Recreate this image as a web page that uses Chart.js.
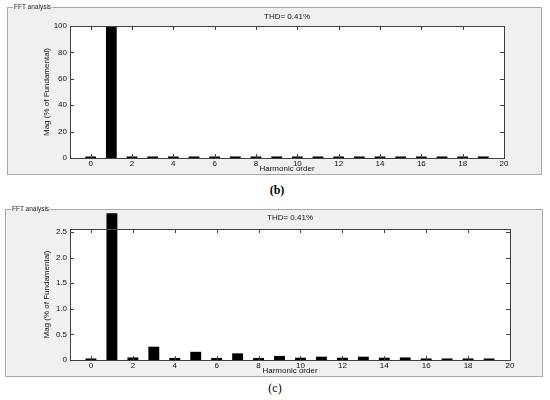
<!DOCTYPE html>
<html>
<head>
<meta charset="utf-8">
<script src="https://cdn.jsdelivr.net/npm/chart.js@4"></script>
<style>
  body { margin: 0; width: 550px; height: 400px; background: #fff; position: relative; overflow: hidden; font-family: "Liberation Sans", Arial, sans-serif; }
  .frame { position: absolute; border: 1px solid #a8a8a8; background: #f0f0f0; }
  .frame canvas { position: absolute; left: 0; top: 0; }
  .tag { position: absolute; left: 5px; top: -5px; font-size: 6.5px; line-height: 8px; padding: 0 1px; color: #222;
         background: linear-gradient(#fff 50%, #f0f0f0 50%); will-change: transform; }
  .cap { position: absolute; font-family: "Liberation Serif", serif; font-size: 12px; color: #000; transform: translate(-50%, -50%); }
</style>
</head>
<body>
<div class="frame" style="left:7px; top:7px; width:533px; height:166px;">
  <span class="tag">FFT analysis</span>
  <canvas id="fftB" width="533" height="166"></canvas>
</div>
<div class="cap" style="left:277px; top:190px; font-weight:bold;">(b)</div>

<div class="frame" style="left:5px; top:209px; width:536px; height:166px;">
  <span class="tag">FFT analysis</span>
  <canvas id="fftC" width="536" height="166"></canvas>
</div>
<div class="cap" style="left:275px; top:388px;">(c)</div>

<script>
// harmonic order 0..19
const harmonics = [0, 1, 2, 3, 4, 5, 6, 7, 8, 9, 10, 11, 12, 13, 14, 15, 16, 17, 18, 19];
// (b) magnitude, % of fundamental
const magB = [0.03, 100, 0.04, 0.26, 0.04, 0.16, 0.04, 0.13, 0.04, 0.08, 0.045, 0.065, 0.045, 0.065, 0.045, 0.05, 0.03, 0.03, 0.03, 0.025];
// (c) magnitude, zoomed axis
const magC = [0.03, 2.87, 0.05, 0.26, 0.04, 0.16, 0.04, 0.13, 0.04, 0.08, 0.045, 0.065, 0.045, 0.065, 0.045, 0.05, 0.03, 0.03, 0.03, 0.025];
const xTicks = [0, 2, 4, 6, 8, 10, 12, 14, 16, 18, 20];
const yTicksB = [0, 20, 40, 60, 80, 100];
const yTicksC = [0, 0.5, 1, 1.5, 2, 2.5];
const thdText = 'THD= 0.41%';

const axisFont = { family: '"Liberation Sans", Arial, sans-serif', size: 8 };

// white axes area + matlab style box with inward ticks
const boxPlugin = {
    id: 'matlabBox',
    beforeDatasetsDraw(chart) {
        const a = chart.chartArea;
        const ctx = chart.ctx;
        ctx.save();
        ctx.fillStyle = '#fff';
        ctx.fillRect(a.left, a.top, a.right - a.left, a.bottom - a.top);
        ctx.restore();
    },
    afterDraw(chart) {
        const a = chart.chartArea;
        const ctx = chart.ctx;
        const len = 4;
        ctx.save();
        ctx.strokeStyle = '#404040';
        ctx.lineWidth = 1;
        ctx.beginPath();
        chart.scales.x.ticks.forEach(t => {
            const px = Math.round(chart.scales.x.getPixelForValue(t.value)) + 0.5;
            ctx.moveTo(px, a.bottom); ctx.lineTo(px, a.bottom - len);
            ctx.moveTo(px, a.top); ctx.lineTo(px, a.top + len);
        });
        chart.scales.y.ticks.forEach(t => {
            const py = Math.round(chart.scales.y.getPixelForValue(t.value)) + 0.5;
            ctx.moveTo(a.left, py); ctx.lineTo(a.left + len, py);
            ctx.moveTo(a.right, py); ctx.lineTo(a.right - len, py);
        });
        ctx.stroke();
        ctx.strokeRect(Math.round(a.left) + 0.5, Math.round(a.top) + 0.5,
            Math.round(a.right - a.left), Math.round(a.bottom - a.top));
        ctx.restore();
    }
};

function makeChart(id, values, yTicks, yMax, pad, titlePad) {
    return new Chart(document.getElementById(id), {
        type: 'bar',
        data: {
            datasets: [{
                data: harmonics.map((h, i) => ({ x: h, y: values[i] })),
                backgroundColor: '#000',
                barPercentage: 0.52,
                categoryPercentage: 1,
                minBarLength: 1.5,
                clip: false
            }]
        },
        options: {
            responsive: false,
            animation: false,
            layout: { padding: pad },
            plugins: {
                legend: { display: false },
                tooltip: { enabled: false },
                title: {
                    display: true,
                    text: thdText,
                    fullSize: false,
                    color: '#111',
                    font: { family: axisFont.family, size: 8, weight: 'normal' },
                    padding: titlePad
                }
            },
            scales: {
                x: {
                    type: 'linear',
                    min: -1,
                    max: 20,
                    offset: false,
                    grid: { display: false, drawTicks: false, offset: false },
                    border: { display: false },
                    afterBuildTicks: s => { s.ticks = xTicks.map(v => ({ value: v })); },
                    afterFit: s => { s.height = 16; },
                    ticks: { color: '#111', font: axisFont, padding: 1, maxRotation: 0, autoSkip: false },
                    title: { display: true, text: 'Harmonic order', color: '#111', font: axisFont, padding: { top: 0, bottom: 0 } }
                },
                y: {
                    min: 0,
                    max: yMax,
                    grid: { display: false, drawTicks: false },
                    border: { display: false },
                    afterBuildTicks: s => { s.ticks = yTicks.map(v => ({ value: v })); },
                    afterFit: s => { s.width = 30; },
                    ticks: { color: '#111', font: axisFont, padding: 3 },
                    title: { display: true, text: 'Mag (% of Fundamental)', color: '#111', font: axisFont, padding: { top: 2, bottom: 0 } }
                }
            }
        },
        plugins: [boxPlugin]
    });
}

makeChart('fftB', magB, yTicksB, 100, { left: 32, right: 37, top: 0, bottom: 0 }, { top: 4, bottom: 4.4 });
makeChart('fftC', magC, yTicksC, 2.56, { left: 34, right: 32, top: 0, bottom: 0 }, { top: 3, bottom: 6.4 });
</script>
</body>
</html>
